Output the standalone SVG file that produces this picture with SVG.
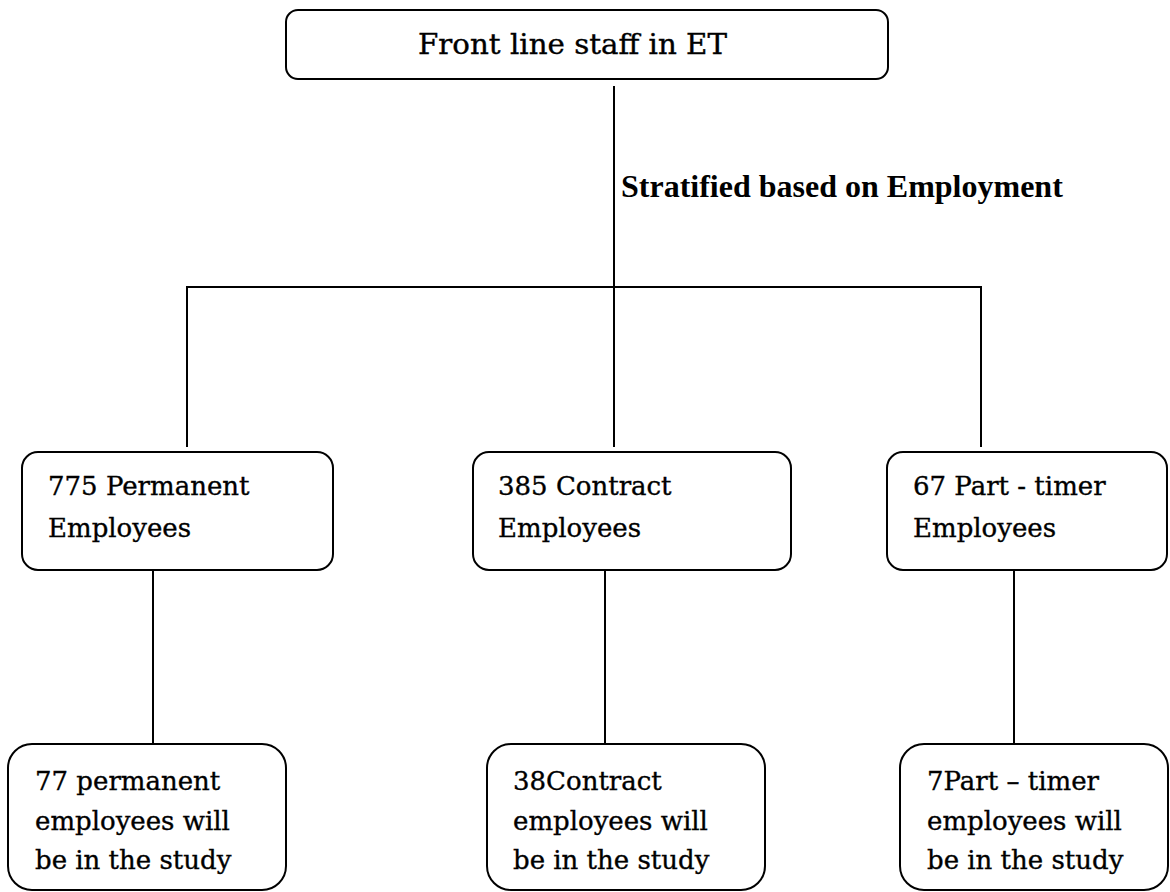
<svg xmlns="http://www.w3.org/2000/svg" width="1170" height="892" viewBox="0 0 1170 892">
<style>
.box{fill:#fff;stroke:#000;stroke-width:2}
.t{font-family:"DejaVu Serif","Liberation Serif",serif;font-size:26px;fill:#000;stroke:#000;stroke-width:0.35}
.tt{font-family:"DejaVu Serif","Liberation Serif",serif;font-size:27px;fill:#000;stroke:#000;stroke-width:0.35}
.b{font-family:"Liberation Serif","Times New Roman",serif;font-size:32px;font-weight:bold;fill:#000}
.c{fill:none;stroke:#000;stroke-width:2}
</style>
<rect width="1170" height="892" fill="#fff"/>
<g id="connectors">
<path class="c" d="M614 86V287M187 447V287H981V447M614 287V447"/>
<path class="c" d="M153 571V743M605 571V743M1014 571V743"/>
<text class="b" x="621" y="197">Stratified based on Employment</text>
</g>
<g id="top">
<rect class="box" x="286" y="10" width="602" height="69" rx="12"/>
<text class="tt" x="418" y="54" textLength="309" lengthAdjust="spacingAndGlyphs">Front line staff in ET</text>
</g>
<g id="permanent">
<rect class="box" x="22" y="452" width="311" height="118" rx="16"/>
<text class="t" x="48" y="495">775 Permanent</text>
<text class="t" x="48" y="537">Employees</text>
</g>
<g id="contract">
<rect class="box" x="473" y="452" width="318" height="118" rx="16"/>
<text class="t" x="498" y="495">385 Contract</text>
<text class="t" x="498" y="537">Employees</text>
</g>
<g id="parttime">
<rect class="box" x="887" y="452" width="280" height="118" rx="16"/>
<text class="t" x="913" y="495">67 Part - timer</text>
<text class="t" x="913" y="537">Employees</text>
</g>
<g id="permanent-study">
<rect class="box" x="8" y="744" width="278" height="146" rx="24"/>
<text class="t" x="35" y="790">77 permanent</text>
<text class="t" x="35" y="830">employees will</text>
<text class="t" x="35" y="869">be in the study</text>
</g>
<g id="contract-study">
<rect class="box" x="487" y="744" width="278" height="146" rx="24"/>
<text class="t" x="513" y="790">38Contract</text>
<text class="t" x="513" y="830">employees will</text>
<text class="t" x="513" y="869">be in the study</text>
</g>
<g id="parttime-study">
<rect class="box" x="900" y="744" width="268" height="146" rx="24"/>
<text class="t" x="927" y="790">7Part – timer</text>
<text class="t" x="927" y="830">employees will</text>
<text class="t" x="927" y="869">be in the study</text>
</g>
</svg>
